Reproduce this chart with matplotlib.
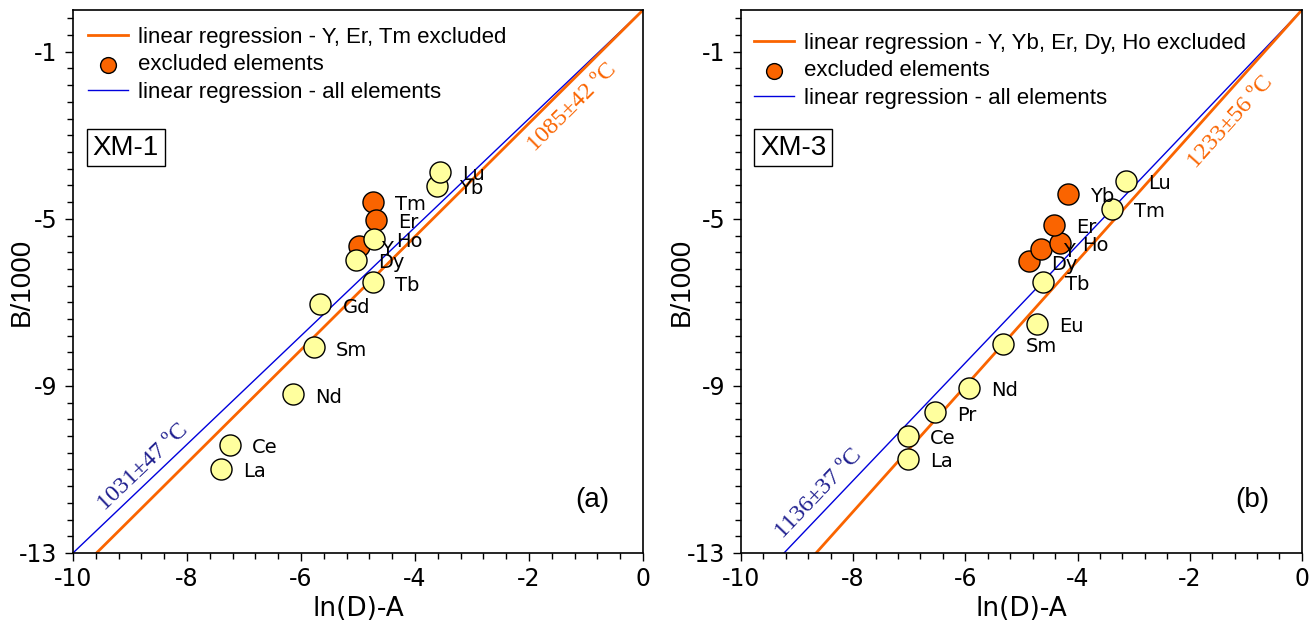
import numpy as np
import matplotlib.pyplot as plt
from matplotlib.lines import Line2D

plt.rcParams['font.family'] = ['DejaVu Sans']
plt.rcParams['axes.unicode_minus'] = False

# (a) XM-1
elem_a = ['La', 'Ce', 'Nd', 'Sm', 'Gd', 'Tb', 'Dy', 'Y', 'Ho', 'Tm', 'Er', 'Yb', 'Lu']
x_a = [-7.41, -7.25, -6.14, -5.78, -5.66, -4.74, -5.04, -4.99, -4.72, -4.74, -4.68, -3.61, -3.56]
y_a = [-10.98, -10.41, -9.20, -8.08, -7.05, -6.52, -5.98, -5.66, -5.48, -4.60, -5.02, -4.21, -3.87]
excl_a = ['Y', 'Er', 'Tm']
slope_all_a = 1.30
slope_excl_a = 1.356
temp_all_a = '1031±47 ºC'
temp_excl_a = '1085±42 ºC'
leg_a = 'linear regression - Y, Er, Tm excluded'

# (b) XM-3
elem_b = ['La', 'Ce', 'Pr', 'Nd', 'Sm', 'Eu', 'Tb', 'Dy', 'Y', 'Ho', 'Er', 'Yb', 'Tm', 'Lu']
x_b = [-7.02, -7.02, -6.54, -5.94, -5.32, -4.73, -4.62, -4.86, -4.65, -4.32, -4.42, -4.17, -3.39, -3.14]
y_b = [-10.75, -10.20, -9.63, -9.05, -8.00, -7.52, -6.51, -6.02, -5.72, -5.58, -5.14, -4.40, -4.76, -4.09]
excl_b = ['Dy', 'Y', 'Ho', 'Er', 'Yb']
slope_all_b = 1.408
slope_excl_b = 1.501
temp_all_b = '1136±37 ºC'
temp_excl_b = '1233±56 ºC'
leg_b = 'linear regression - Y, Yb, Er, Dy, Ho excluded'

ORANGE = '#fa6400'
YELLOW = '#ffff9e'
BLUE = '#0000dd'
NAVY = '#1f1f8f'


def panel(ax, elems, xs, ys, excl, s_all, s_excl, t_all, t_excl, leg, name, tag,
          pos_all, pos_excl, leg_anchor, ylab_x):
    ax.set_xlim(-10, 0)
    ax.set_ylim(-13, 0)

    ax.axline((0, 0), slope=s_all, color=BLUE, lw=1.0, zorder=2)
    ax.axline((0, 0), slope=s_excl, color=ORANGE, lw=2.0, zorder=2)

    xs = np.array(xs)
    ys = np.array(ys)
    is_ex = np.array([e in excl for e in elems])
    sc_ex = ax.scatter(xs[is_ex], ys[is_ex], s=230, c=ORANGE, edgecolors='black',
                       linewidths=1.0, zorder=3)
    ax.scatter(xs[~is_ex], ys[~is_ex], s=230, c=YELLOW, edgecolors='black',
               linewidths=1.0, zorder=4)
    for e, x, y in zip(elems, xs, ys):
        ax.annotate(e, (x, y), xytext=(16, -2), textcoords='offset points',
                    ha='left', va='center', fontsize=14, zorder=5)

    ax.text(pos_all[0], pos_all[1], t_all, color=NAVY, fontsize=17.5,
            family='Liberation Serif', rotation=np.degrees(np.arctan(s_all)),
            transform_rotates_text=True, rotation_mode='anchor',
            ha='center', va='center')
    ax.text(pos_excl[0], pos_excl[1], t_excl, color=ORANGE, fontsize=17.5,
            family='Liberation Serif', rotation=np.degrees(np.arctan(s_excl)),
            transform_rotates_text=True, rotation_mode='anchor',
            ha='center', va='center')

    ax.text(-9.07, -3.30, name, fontsize=20, family='Liberation Sans',
            ha='center', va='center',
            bbox=dict(boxstyle='square,pad=0.2', fc='white', ec='black', lw=1))
    ax.text(-0.89, -11.73, tag, fontsize=20, family='Liberation Sans',
            ha='center', va='center')

    handles = [Line2D([], [], color=ORANGE, lw=2.0), sc_ex,
               Line2D([], [], color=BLUE, lw=1.0)]
    labels = [leg, 'excluded elements', 'linear regression - all elements']
    ax.legend(handles, labels, loc='upper left', bbox_to_anchor=leg_anchor,
              frameon=False, borderpad=0, borderaxespad=0, labelspacing=0.3,
              handlelength=1.8, handletextpad=0.45, markerscale=0.75,
              prop={'family': 'Liberation Sans', 'size': 16})

    ax.set_xticks([-10, -8, -6, -4, -2, 0])
    ax.set_yticks([-13, -9, -5, -1])
    ax.set_xticks(np.arange(-10, 0.01, 0.4), minor=True)
    ax.set_yticks(np.arange(-13, 0.01, 0.4), minor=True)
    ax.tick_params(which='major', length=6, width=1, labelsize=17)
    ax.tick_params(axis='x', which='major', pad=4)
    ax.tick_params(axis='y', which='major', pad=5)
    ax.tick_params(which='minor', length=4, width=1)
    for sp in ax.spines.values():
        sp.set_linewidth(1.2)

    ax.set_xlabel('ln(D)-A', fontsize=19)
    ax.set_ylabel('B/1000', fontsize=20, family='Liberation Sans')
    ax.xaxis.set_label_coords(0.5, -0.103)
    ax.xaxis.label.set_va('center')
    ax.yaxis.set_label_coords(ylab_x, 0.5)
    ax.yaxis.label.set_va('center')


fig = plt.figure(figsize=(13.15, 6.24), dpi=100)
ax1 = fig.add_axes([0.0555, 0.1138, 0.4335, 0.8702])
ax2 = fig.add_axes([0.5635, 0.1138, 0.4265, 0.8702])

panel(ax1, elem_a, x_a, y_a, excl_a, slope_all_a, slope_excl_a, temp_all_a,
      temp_excl_a, leg_a, 'XM-1', '(a)', (-8.77, -10.95), (-1.24, -2.33),
      (0.027, 0.969), -0.0895)
panel(ax2, elem_b, x_b, y_b, excl_b, slope_all_b, slope_excl_b, temp_all_b,
      temp_excl_b, leg_b, 'XM-3', '(b)', (-8.61, -11.58), (-1.27, -2.69),
      (0.023, 0.958), -0.105)

fig.savefig('out.png', dpi=100)
